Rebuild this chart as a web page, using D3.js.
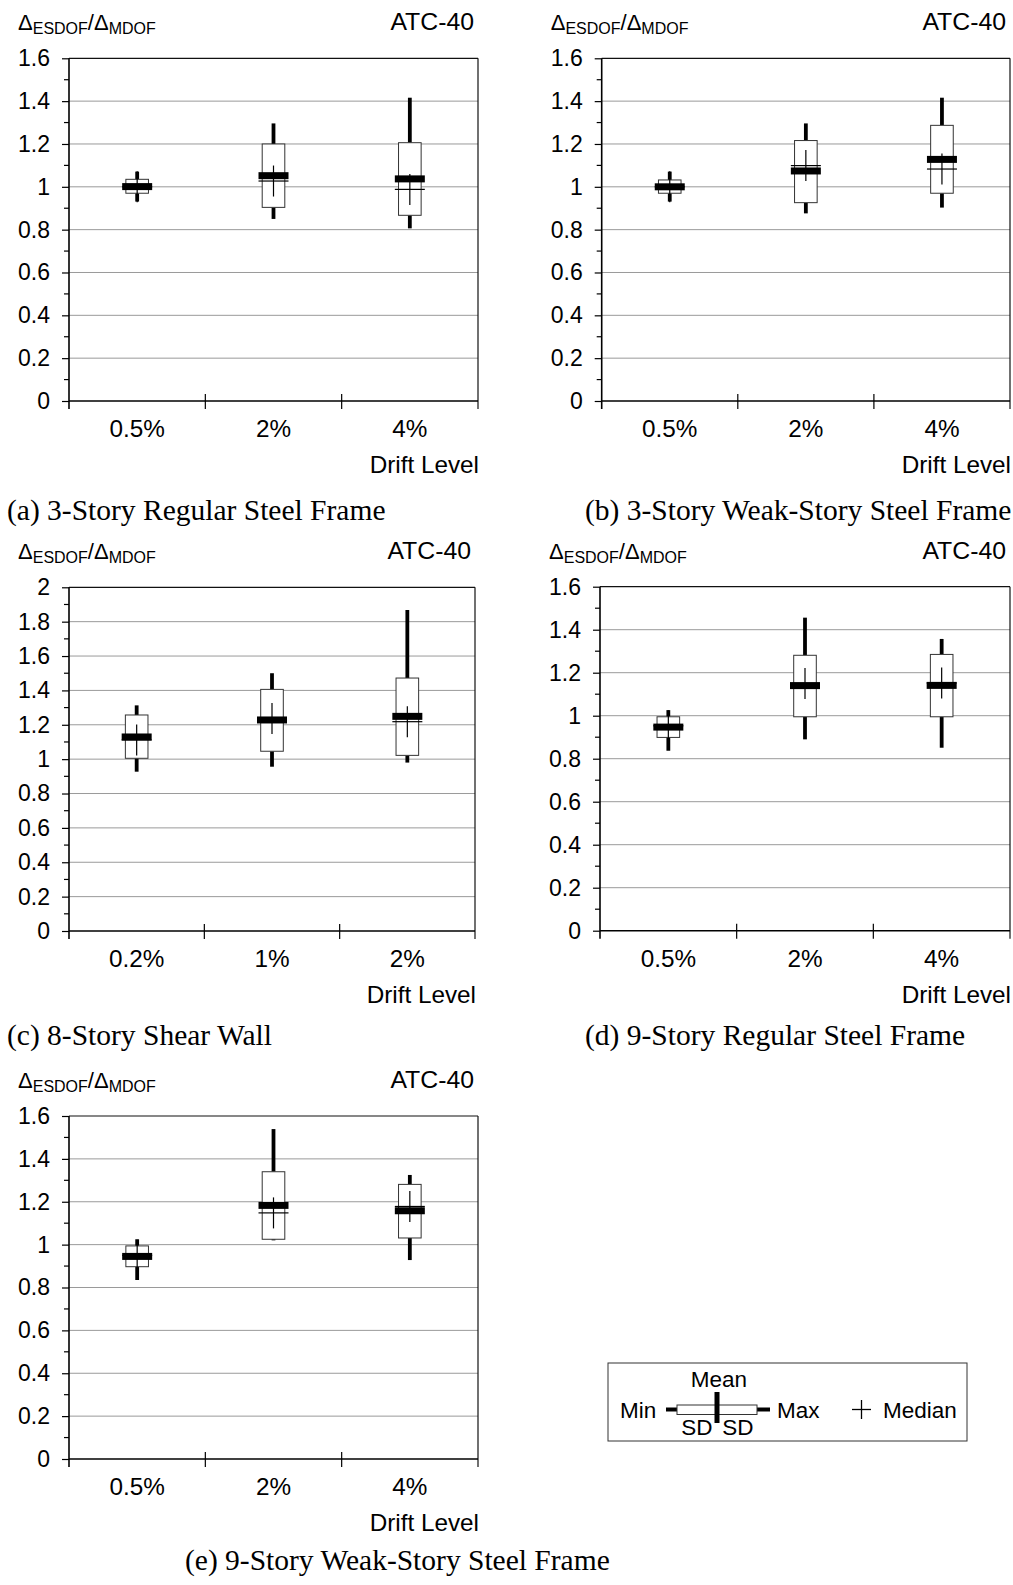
<!DOCTYPE html>
<html>
<head>
<meta charset="utf-8">
<script src="https://cdn.jsdelivr.net/npm/d3@7"></script>
<style>
  html, body { margin: 0; padding: 0; background: #fff; }
  svg { display: block; }
</style>
</head>
<body>
<svg id="chart" width="1013" height="1585"></svg>
<script>
// ---------------- DATA ----------------
const yTicks16 = [0, 0.2, 0.4, 0.6, 0.8, 1, 1.2, 1.4, 1.6];
const yTicks20 = [0, 0.2, 0.4, 0.6, 0.8, 1, 1.2, 1.4, 1.6, 1.8, 2];

// (a) 3-Story Regular Steel Frame
const cats_a = ["0.5%", "2%", "4%"];
const min_a  = [0.931, 0.850, 0.806];
const sdLo_a = [0.970, 0.904, 0.867];
const mean_a = [1.001, 1.052, 1.037];
const sdHi_a = [1.035, 1.200, 1.206];
const max_a  = [1.071, 1.296, 1.416];
const med_a  = [1.000, 1.027, 0.988];

// (b) 3-Story Weak-Story Steel Frame
const cats_b = ["0.5%", "2%", "4%"];
const min_b  = [0.931, 0.876, 0.903];
const sdLo_b = [0.970, 0.926, 0.970];
const mean_b = [1.000, 1.074, 1.128];
const sdHi_b = [1.032, 1.216, 1.287];
const max_b  = [1.071, 1.296, 1.416];
const med_b  = [1.000, 1.099, 1.083];

// (c) 8-Story Shear Wall
const cats_c = ["0.2%", "1%", "2%"];
const min_c  = [0.927, 0.956, 0.980];
const sdLo_c = [1.005, 1.046, 1.022];
const mean_c = [1.129, 1.228, 1.249];
const sdHi_c = [1.257, 1.406, 1.472];
const max_c  = [1.313, 1.500, 1.868];
const med_c  = [1.112, 1.236, 1.218];

// (d) 9-Story Regular Steel Frame
const cats_d = ["0.5%", "2%", "4%"];
const min_d  = [0.837, 0.890, 0.851];
const sdLo_d = [0.899, 0.995, 0.995];
const mean_d = [0.947, 1.140, 1.141];
const sdHi_d = [0.995, 1.281, 1.285];
const max_d  = [1.026, 1.456, 1.357];
const med_d  = [0.953, 1.150, 1.152];

// (e) 9-Story Weak-Story Steel Frame
const cats_e = ["0.5%", "2%", "4%"];
const min_e  = [0.835, 1.020, 0.928];
const sdLo_e = [0.897, 1.025, 1.031];
const mean_e = [0.945, 1.183, 1.158];
const sdHi_e = [0.994, 1.340, 1.281];
const max_e  = [1.025, 1.539, 1.325];
const med_e  = [0.950, 1.148, 1.178];

const captions = [
  "(a) 3-Story Regular Steel Frame",
  "(b) 3-Story Weak-Story Steel Frame",
  "(c) 8-Story Shear Wall",
  "(d) 9-Story Regular Steel Frame",
  "(e) 9-Story Weak-Story Steel Frame"
];
const methodLabel = "ATC-40";
const xTitle = "Drift Level";

// ---------------- LAYOUT ----------------
const panels = [
  { cats: cats_a, min: min_a, lo: sdLo_a, mean: mean_a, hi: sdHi_a, max: max_a, med: med_a, ticks: yTicks16,
    x0: 69, x1: 478, yT: 58.3, yB: 401, cx: 7, cy: 520, cap: captions[0] },
  { cats: cats_b, min: min_b, lo: sdLo_b, mean: mean_b, hi: sdHi_b, max: max_b, med: med_b, ticks: yTicks16,
    x0: 601.7, x1: 1010, yT: 58.3, yB: 401, cx: 585, cy: 520, cap: captions[1] },
  { cats: cats_c, min: min_c, lo: sdLo_c, mean: mean_c, hi: sdHi_c, max: max_c, med: med_c, ticks: yTicks20,
    x0: 69, x1: 475, yT: 587.3, yB: 931, cx: 7, cy: 1045, cap: captions[2] },
  { cats: cats_d, min: min_d, lo: sdLo_d, mean: mean_d, hi: sdHi_d, max: max_d, med: med_d, ticks: yTicks16,
    x0: 600, x1: 1010, yT: 586.7, yB: 930.7, cx: 585, cy: 1045, cap: captions[3] },
  { cats: cats_e, min: min_e, lo: sdLo_e, mean: mean_e, hi: sdHi_e, max: max_e, med: med_e, ticks: yTicks16,
    x0: 69, x1: 478, yT: 1116, yB: 1459, cx: 185, cy: 1570, cap: captions[4] }
];

const SANS = "'Liberation Sans', Arial, sans-serif";
const SERIF = "'Liberation Serif', 'Times New Roman', serif";
const FS = 23;
const FSX = 24.3;

const svg = d3.select("#chart");

function drawPanel(p) {
  const g = svg.append("g");
  const ymax = p.ticks[p.ticks.length - 1];
  const y = d3.scaleLinear().domain([0, ymax]).range([p.yB, p.yT]);
  const x = d3.scaleBand().domain(p.cats).range([p.x0, p.x1]).padding(0);

  // gridlines
  g.selectAll("line.grid").data(p.ticks.filter(t => t > 0 && t < ymax)).enter()
    .append("line").attr("class", "grid")
    .attr("x1", p.x0).attr("x2", p.x1)
    .attr("y1", d => y(d)).attr("y2", d => y(d))
    .attr("stroke", "#9a9a9a").attr("stroke-width", 1);

  // top & right border
  g.append("line").attr("x1", p.x0).attr("x2", p.x1).attr("y1", p.yT).attr("y2", p.yT)
    .attr("stroke", "#111").attr("stroke-width", 1.2);
  g.append("line").attr("x1", p.x1).attr("x2", p.x1).attr("y1", p.yT).attr("y2", p.yB + 8)
    .attr("stroke", "#111").attr("stroke-width", 1.2);

  // y axis with major ticks
  const yAxis = d3.axisLeft(y).tickValues(p.ticks).tickSize(7).tickPadding(12)
    .tickFormat(d => String(+d.toFixed(1)));
  const ga = g.append("g").attr("transform", `translate(${p.x0},0)`).call(yAxis);
  ga.select(".domain").remove();
  ga.selectAll(".tick line").attr("stroke", "#000").attr("stroke-width", 1.2);
  ga.selectAll(".tick text").attr("font-family", SANS).attr("font-size", FS).attr("fill", "#000");
  // minor ticks
  const minor = d3.range(1, Math.round(ymax * 10), 2).map(v => v / 10);
  g.selectAll("line.minor").data(minor).enter().append("line")
    .attr("x1", p.x0 - 5).attr("x2", p.x0).attr("y1", d => y(d)).attr("y2", d => y(d))
    .attr("stroke", "#000").attr("stroke-width", 1.2);
  // left axis line
  g.append("line").attr("x1", p.x0).attr("x2", p.x0).attr("y1", p.yT).attr("y2", p.yB + 8)
    .attr("stroke", "#000").attr("stroke-width", 1.6);

  // bottom axis
  g.append("line").attr("x1", p.x0).attr("x2", p.x1).attr("y1", p.yB).attr("y2", p.yB)
    .attr("stroke", "#000").attr("stroke-width", 1.6);
  const bounds = p.cats.map(c => x(c)).concat([p.x1]);
  g.selectAll("line.xt").data(bounds.slice(1, -1)).enter().append("line")
    .attr("x1", d => d).attr("x2", d => d).attr("y1", p.yB - 7).attr("y2", p.yB + 8)
    .attr("stroke", "#000").attr("stroke-width", 1.2);
  g.selectAll("text.xl").data(p.cats).enter().append("text")
    .attr("x", d => x(d) + x.bandwidth() / 2).attr("y", p.yB + 36)
    .attr("text-anchor", "middle").attr("font-family", SANS).attr("font-size", FSX).text(d => d);
  g.append("text").attr("x", p.x1 + 1).attr("y", p.yB + 72).attr("text-anchor", "end")
    .attr("font-family", SANS).attr("font-size", FSX).text(xTitle);

  // y label and method label
  const yl = g.append("text").attr("x", p.x0 - 51).attr("y", p.yT - 28)
    .attr("font-family", SANS).attr("font-size", 22);
  yl.append("tspan").text("Δ");
  yl.append("tspan").attr("font-size", 16).attr("dy", 4).text("ESDOF");
  yl.append("tspan").attr("dy", -4).text("/Δ");
  yl.append("tspan").attr("font-size", 16).attr("dy", 4).text("MDOF");
  g.append("text").attr("x", p.x1 - 4).attr("y", p.yT - 28).attr("text-anchor", "end")
    .attr("font-family", SANS).attr("font-size", 24.8).text(methodLabel);

  // boxes
  const data = p.cats.map((c, i) => ({ c, min: p.min[i], lo: p.lo[i], mean: p.mean[i], hi: p.hi[i], max: p.max[i], med: p.med[i] }));
  const bw = 22.6, mw = 30, mh = 7;
  const cx = d => x(d.c) + x.bandwidth() / 2;
  const bg = g.selectAll("g.box").data(data).enter().append("g");
  bg.append("line").attr("x1", cx).attr("x2", cx).attr("y1", d => y(d.min)).attr("y2", d => y(d.lo))
    .attr("stroke", "#000").attr("stroke-width", 3.8);
  bg.append("line").attr("x1", cx).attr("x2", cx).attr("y1", d => y(d.hi)).attr("y2", d => y(d.max))
    .attr("stroke", "#000").attr("stroke-width", 3.8);
  bg.append("rect").attr("x", d => cx(d) - bw / 2).attr("width", bw)
    .attr("y", d => y(d.hi)).attr("height", d => y(d.lo) - y(d.hi))
    .attr("fill", "#fff").attr("stroke", "#333").attr("stroke-width", 1);
  bg.append("rect").attr("x", d => cx(d) - mw / 2).attr("width", mw)
    .attr("y", d => y(d.mean) - mh / 2).attr("height", mh).attr("fill", "#000");
  bg.append("line").attr("x1", d => cx(d) - mw / 2).attr("x2", d => cx(d) + mw / 2)
    .attr("y1", d => y(d.med)).attr("y2", d => y(d.med)).attr("stroke", "#000").attr("stroke-width", 1.2);
  bg.append("line").attr("x1", cx).attr("x2", cx)
    .attr("y1", d => y(d.med) - 15.5).attr("y2", d => y(d.med) + 15.5).attr("stroke", "#000").attr("stroke-width", 1.2);

  // caption
  svg.append("text").attr("x", p.cx).attr("y", p.cy).attr("font-family", SERIF).attr("font-size", 29.5)
    .attr("fill", "#000").text(p.cap);
}

panels.forEach(drawPanel);

// ---------------- LEGEND ----------------
const lg = svg.append("g");
lg.append("rect").attr("x", 608).attr("y", 1363).attr("width", 359).attr("height", 78)
  .attr("fill", "#fff").attr("stroke", "#333").attr("stroke-width", 1);
const ltxt = (x, y, t, anchor) => lg.append("text").attr("x", x).attr("y", y)
  .attr("text-anchor", anchor || "start").attr("font-family", SANS).attr("font-size", 22.5).text(t);
ltxt(620, 1418, "Min");
ltxt(719, 1387, "Mean", "middle");
ltxt(777, 1418, "Max");
ltxt(883, 1418, "Median");
ltxt(697, 1435, "SD", "middle");
ltxt(738, 1435, "SD", "middle");
lg.append("line").attr("x1", 666).attr("x2", 677).attr("y1", 1409.5).attr("y2", 1409.5).attr("stroke", "#000").attr("stroke-width", 4);
lg.append("line").attr("x1", 757).attr("x2", 770).attr("y1", 1409.5).attr("y2", 1409.5).attr("stroke", "#000").attr("stroke-width", 4);
lg.append("rect").attr("x", 677).attr("y", 1405).attr("width", 80).attr("height", 9.5)
  .attr("fill", "#fff").attr("stroke", "#333").attr("stroke-width", 1);
lg.append("rect").attr("x", 714.5).attr("y", 1392).attr("width", 5).attr("height", 31).attr("fill", "#000");
lg.append("line").attr("x1", 852).attr("x2", 871).attr("y1", 1409.5).attr("y2", 1409.5).attr("stroke", "#000").attr("stroke-width", 1.3);
lg.append("line").attr("x1", 861.5).attr("x2", 861.5).attr("y1", 1400).attr("y2", 1419).attr("stroke", "#000").attr("stroke-width", 1.3);
</script>
</body>
</html>
